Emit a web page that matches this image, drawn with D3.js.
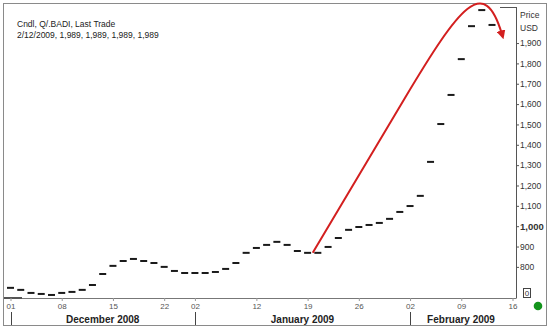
<!DOCTYPE html>
<html><head><meta charset="utf-8">
<script src="https://cdn.jsdelivr.net/npm/d3@7"></script>
<style>
html,body{margin:0;padding:0;background:#fff;}
svg{display:block;font-family:"Liberation Sans",Arial,sans-serif;}
</style></head>
<body>
<svg id="c" width="550" height="328"></svg>
<script>
// ---- data ----
const dates = ["2008-12-01","2008-12-02","2008-12-03","2008-12-04","2008-12-05","2008-12-08","2008-12-09","2008-12-10","2008-12-11","2008-12-12","2008-12-15","2008-12-16","2008-12-17","2008-12-18","2008-12-19","2008-12-22","2008-12-23","2008-12-24","2009-01-02","2009-01-05","2009-01-06","2009-01-07","2009-01-08","2009-01-09","2009-01-12","2009-01-13","2009-01-14","2009-01-15","2009-01-16","2009-01-19","2009-01-20","2009-01-21","2009-01-22","2009-01-23","2009-01-26","2009-01-27","2009-01-28","2009-01-29","2009-01-30","2009-02-02","2009-02-03","2009-02-04","2009-02-05","2009-02-06","2009-02-09","2009-02-10","2009-02-11","2009-02-12"];
const values = [697,687,672,667,662,672,677,687,711,765,805,829,839,829,819,800,780,770,770,770,775,790,819,869,893,908,923,908,878,869,869,898,942,982,996,1006,1016,1036,1070,1099,1149,1316,1502,1645,1821,1983,2062,1989];
const futureDates = ["2009-02-13","2009-02-16"];
const xTickDates = ["2008-12-01","2008-12-08","2008-12-15","2008-12-22","2009-01-02","2009-01-12","2009-01-19","2009-01-26","2009-02-02","2009-02-09","2009-02-16"];
const xTickLabels = ["01","08","15","22","02","12","19","26","02","09","16"];
const months = ["December 2008","January 2009","February 2009"];
const monthStarts = ["2008-12-01","2009-01-02","2009-02-02"];
const yTicks = [800,900,1000,1100,1200,1300,1400,1500,1600,1700,1800,1900];
const header = ["Cndl, Q/.BADI, Last Trade","2/12/2009, 1,989, 1,989, 1,989, 1,989"];
// annotation arrow in data units: [trading-day index, value]
const arrowPts = [[29.5,869],[38.5,1630],[43.87,2082],[46.22,2239],[47.97,1944]];

// ---- layout ----
const svg = d3.select("#c");
const L = 4, R = 516, T = 7, B = 298;
const allDates = dates.concat(futureDates);
const x = d3.scalePoint().domain(allDates).range([10.5, 512.5]);
const xi = i => x(allDates[0]) + i * x.step();
const y = d3.scaleLinear().domain([652, 2087]).range([297, 5]);

// outer frame
svg.append("rect").attr("x",3.5).attr("y",3.5).attr("width",543).attr("height",322)
  .attr("fill","none").attr("stroke","#8a8a8a").attr("stroke-width",1);
// plot bottom axis
svg.append("line").attr("x1",L).attr("x2",R).attr("y1",B+0.5).attr("y2",B+0.5).attr("stroke","#777");
svg.append("line").attr("x1",L).attr("x2",22).attr("y1",B).attr("y2",B).attr("stroke","#555").attr("stroke-width",2);
// right axis line
svg.append("line").attr("x1",R+0.5).attr("x2",R+0.5).attr("y1",T).attr("y2",B+0.5).attr("stroke","#555");
svg.append("line").attr("x1",500).attr("x2",R).attr("y1",T+0.5).attr("y2",T+0.5).attr("stroke","#555");

// y axis
const yAxis = d3.axisRight(y).tickValues(yTicks).tickSize(3).tickPadding(1)
  .tickFormat(d3.format(","));
const gy = svg.append("g").attr("transform",`translate(${R},0)`).call(yAxis);
gy.select(".domain").remove();
gy.selectAll(".tick line").attr("stroke","#555");
gy.selectAll(".tick text").attr("fill","#333")
  .style("font-family","'Liberation Sans',Arial,sans-serif")
  .style("font-weight",d=>d===1000?"bold":"normal")
  .style("font-size",d=>d===1000?"9.5px":"8.5px");
svg.append("text").attr("x",520).attr("y",18).text("Price").attr("fill","#333").style("font-size","8.5px");
svg.append("text").attr("x",520).attr("y",31).text("USD").attr("fill","#333").style("font-size","8.5px");

// "0" box
svg.append("rect").attr("x",523.5).attr("y",288.5).attr("width",7).attr("height",9).attr("fill","#fff").attr("stroke","#444");
svg.append("text").attr("x",527).attr("y",296).attr("text-anchor","middle").text("0").attr("fill","#333").style("font-size","8px");
// green dot
svg.append("circle").attr("cx",538).attr("cy",306).attr("r",4.3).attr("fill","#13941c");

// x axis ticks/labels
const xAxis = d3.axisBottom(x).tickValues(xTickDates).tickSize(3).tickPadding(2)
  .tickFormat((d,i)=>xTickLabels[i]);
const gx = svg.append("g").attr("transform",`translate(0,${B})`).call(xAxis);
gx.select(".domain").remove();
gx.selectAll(".tick line").attr("stroke","#999");
gx.selectAll(".tick text").attr("fill","#555").style("font-size","8px")
  .style("font-family","'Liberation Sans',Arial,sans-serif");

// month separators & labels
svg.selectAll(".sep").data(monthStarts).join("line").attr("class","sep")
  .attr("x1",d=>Math.round(x(d))+0.5).attr("x2",d=>Math.round(x(d))+0.5)
  .attr("y1",312).attr("y2",325).attr("stroke","#444");
const monthEnds = monthStarts.slice(1).map(d=>x(d)).concat([516]);
svg.selectAll(".mon").data(months).join("text").attr("class","mon")
  .attr("x",(d,i)=>i===2? (x(monthStarts[i])+monthEnds[i])/2 - 2 : (x(monthStarts[i])+monthEnds[i])/2)
  .attr("y",323).attr("text-anchor","middle").text(d=>d)
  .attr("fill","#222").style("font-size","10px").style("font-weight","bold");

// header
svg.selectAll(".hdr").data(header).join("text").attr("class","hdr")
  .attr("x",17).attr("y",(d,i)=>27+i*11).text(d=>d)
  .attr("fill","#222").style("font-size","8.5px");

// candles (flat dashes)
svg.selectAll(".bar").data(values).join("line").attr("class","bar")
  .attr("x1",(d,i)=>x(dates[i])-3.5).attr("x2",(d,i)=>x(dates[i])+3.5)
  .attr("y1",d=>y(d)).attr("y2",d=>y(d))
  .attr("stroke","#1a1a1a").attr("stroke-width",2);

// red annotation arrow
svg.append("defs").append("marker").attr("id","ah").attr("viewBox","0 0 10 10")
  .attr("refX",4).attr("refY",5).attr("markerWidth",4.5).attr("markerHeight",4.5)
  .attr("orient","auto").attr("markerUnits","strokeWidth")
  .append("path").attr("d","M0,0 L10,5 L0,10 z").attr("fill","#d31f1f");
const P = arrowPts.map(p=>[xi(p[0]), y(p[1])]);
const path = d3.path();
path.moveTo(P[0][0],P[0][1]);
path.lineTo(P[1][0],P[1][1]);
path.bezierCurveTo(P[2][0],P[2][1],P[3][0],P[3][1],P[4][0],P[4][1]);
svg.append("path").attr("d",path.toString()).attr("fill","none")
  .attr("stroke","#d31f1f").attr("stroke-width",2).attr("marker-end","url(#ah)");
</script>
</body></html>
